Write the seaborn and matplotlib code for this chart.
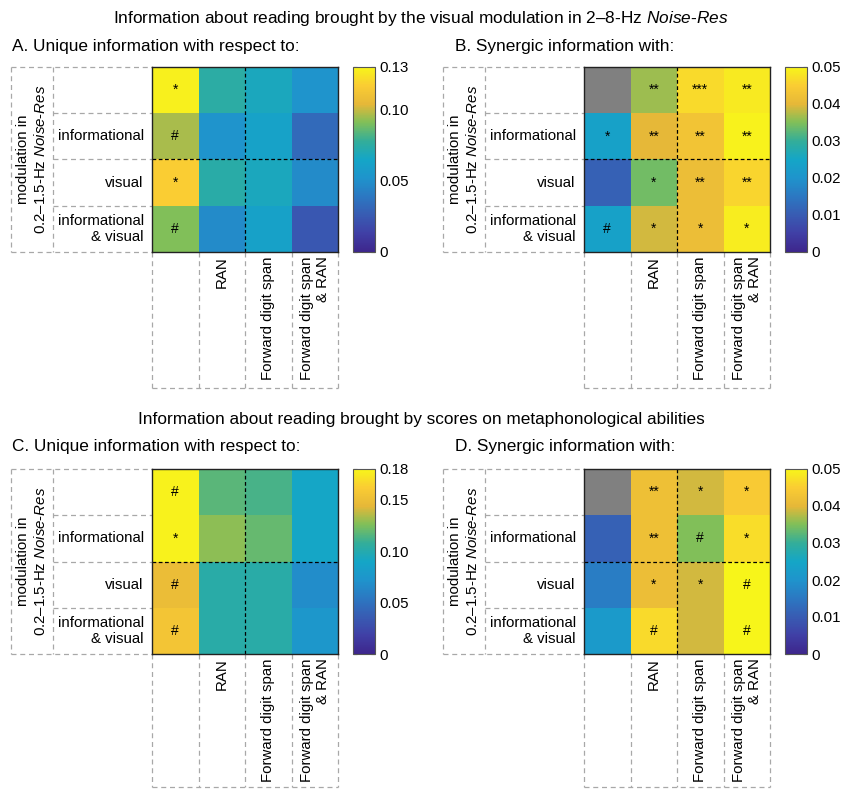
import matplotlib
matplotlib.use('Agg')
import matplotlib.pyplot as plt
from matplotlib.colors import LinearSegmentedColormap
import numpy as np
import seaborn as sns

sns.set_style('white')
plt.rcParams['font.family'] = ['Liberation Sans', 'DejaVu Sans']
plt.rcParams['mathtext.fontset'] = 'custom'
plt.rcParams['mathtext.rm'] = 'Liberation Sans'
plt.rcParams['mathtext.it'] = 'Liberation Sans:italic'
plt.rcParams['text.color'] = 'black'
plt.rcParams['xtick.color'] = 'black'
plt.rcParams['ytick.color'] = 'black'

# labels
row_labels = ['', 'informational', 'visual', 'informational\n& visual']
col_labels = ['', 'RAN', 'Forward digit span', 'Forward digit span\n& RAN']

# A. unique information (visual modulation 2-8 Hz)
uniq_a = [[0.128, 0.075, 0.068, 0.052],
          [0.096, 0.052, 0.062, 0.033],
          [0.117, 0.074, 0.068, 0.048],
          [0.091, 0.048, 0.061, 0.024]]
sig_a = [['*', '', '', ''],
         ['#', '', '', ''],
         ['*', '', '', ''],
         ['#', '', '', '']]

# B. synergic information (visual modulation 2-8 Hz), nan = not defined
syn_b = [[np.nan, 0.0365, 0.0465, 0.0485],
         [0.0235, 0.040, 0.043, 0.0495],
         [0.011, 0.034, 0.0415, 0.046],
         [0.0235, 0.039, 0.0415, 0.049]]
sig_b = [['', '**', '***', '**'],
         ['*', '**', '**', '**'],
         ['', '*', '**', '**'],
         ['#', '*', '*', '*']]

# C. unique information (metaphonological scores)
uniq_c = [[0.178, 0.117, 0.113, 0.090],
          [0.178, 0.128, 0.120, 0.090],
          [0.149, 0.102, 0.102, 0.068],
          [0.156, 0.102, 0.102, 0.075]]
sig_c = [['#', '', '', ''],
         ['*', '', '', ''],
         ['#', '', '', ''],
         ['#', '', '', '']]

# D. synergic information (metaphonological scores)
syn_d = [[np.nan, 0.042, 0.039, 0.0445],
         [0.011, 0.042, 0.035, 0.047],
         [0.016, 0.0415, 0.039, 0.050],
         [0.0215, 0.0465, 0.039, 0.050]]
sig_d = [['', '**', '*', '*'],
         ['', '**', '#', '*'],
         ['', '*', '*', '#'],
         ['', '#', '', '#']]

# parula-like colormap (as it appears in the printed figure)
parula = LinearSegmentedColormap.from_list('parula', [
    (0.24, 0.15, 0.55), (0.25, 0.25, 0.65), (0.22, 0.36, 0.70), (0.17, 0.47, 0.76),
    (0.12, 0.58, 0.80), (0.08, 0.65, 0.78), (0.20, 0.68, 0.60), (0.50, 0.75, 0.35),
    (0.90, 0.72, 0.22), (0.98, 0.80, 0.20), (0.97, 0.96, 0.10)])

W, H = 842, 790
fig = plt.figure(figsize=(W / 100, H / 100), dpi=100)


def px(x, y, w, h):
    return [x / W, 1 - (y + h) / H, w / W, h / H]


def panel(x0, y0, data, annot, vmax, ticks, ticklabels, ybot):
    ax = fig.add_axes(px(x0, y0, 186, 185))
    cax = fig.add_axes(px(x0 + 201, y0, 22, 185))
    ax.set_facecolor('#808080')
    sns.heatmap(np.array(data, dtype=float), ax=ax, cmap=parula, vmin=0, vmax=vmax,
                annot=np.array(annot), fmt='', annot_kws={'fontsize': 10, 'color': 'k'},
                cbar_ax=cax, cbar_kws={'ticks': ticks},
                xticklabels=col_labels, yticklabels=row_labels)
    for s in ax.spines.values():
        s.set_visible(True)
        s.set_color('#222222')
        s.set_linewidth(1.0)
    ax.tick_params(length=0, labelsize=10.8)
    ax.tick_params(axis='x', pad=3)
    ax.tick_params(axis='y', pad=6)
    ax.set_xticklabels(col_labels, rotation=90, va='top', ha='center', multialignment='right')
    ax.set_yticklabels(row_labels, rotation=0, ha='right', va='center', multialignment='right')

    # black dashed split lines
    ax.plot([0, 4], [2, 2], color='k', ls=(0, (3, 2)), lw=0.9)
    ax.plot([2, 2], [0, 4], color='k', ls=(0, (3, 2)), lw=0.9)

    # grey dashed label boxes
    kw = dict(color='#a8a8a8', ls=(0, (4, 3)), lw=0.9, clip_on=False)
    xo, xi = -3.03, -2.13
    ax.plot([xo, 0], [0, 0], **kw)
    ax.plot([xo, 0], [4, 4], **kw)
    ax.plot([xo, xo], [0, 4], **kw)
    ax.plot([xi, xi], [0, 4], **kw)
    for r in (1, 2, 3):
        ax.plot([xi, 0], [r, r], **kw)
    for c in range(5):
        ax.plot([c, c], [4, ybot], **kw)
    ax.plot([0, 4], [ybot, ybot], **kw)
    ax.set_xlim(0, 4)
    ax.set_ylim(4, 0)

    ax.text((xo + xi) / 2, 2, 'modulation in\n0.2–1.5-Hz $\\it{Noise}$-$\\it{Res}$',
            rotation=90, ha='center', va='center', multialignment='center', fontsize=10.8)

    cbar = ax.collections[0].colorbar
    cbar.set_ticks(ticks)
    cbar.set_ticklabels(ticklabels)
    cbar.outline.set_edgecolor('#555555')
    cbar.outline.set_linewidth(0.8)
    cax.tick_params(direction='in', length=3, left=True, right=True, labelsize=10.8, pad=3,
                    color='#333333')


panel(152, 67, uniq_a, sig_a, 0.13, [0, 0.05, 0.10, 0.13], ['0', '0.05', '0.10', '0.13'], 6.94)
panel(584, 67, syn_b, sig_b, 0.05, [0, 0.01, 0.02, 0.03, 0.04, 0.05],
      ['0', '0.01', '0.02', '0.03', '0.04', '0.05'], 6.94)
panel(152, 469, uniq_c, sig_c, 0.18, [0, 0.05, 0.10, 0.15, 0.18],
      ['0', '0.05', '0.10', '0.15', '0.18'], 6.88)
panel(584, 469, syn_d, sig_d, 0.05, [0, 0.01, 0.02, 0.03, 0.04, 0.05],
      ['0', '0.01', '0.02', '0.03', '0.04', '0.05'], 6.88)

fig.text(0.5, 1 - 18 / H,
         'Information about reading brought by the visual modulation in 2–8-Hz $\\it{Noise}$-$\\it{Res}$',
         ha='center', va='center', fontsize=12.4)
fig.text(0.5, 1 - 419 / H, 'Information about reading brought by scores on metaphonological abilities',
         ha='center', va='center', fontsize=12.4)
fig.text(12 / W, 1 - 46 / H, 'A. Unique information with respect to:', ha='left', va='center', fontsize=12.4)
fig.text(455 / W, 1 - 46 / H, 'B. Synergic information with:', ha='left', va='center', fontsize=12.4)
fig.text(12 / W, 1 - 447 / H, 'C. Unique information with respect to:', ha='left', va='center', fontsize=12.4)
fig.text(455 / W, 1 - 447 / H, 'D. Synergic information with:', ha='left', va='center', fontsize=12.4)

fig.savefig('out.png', dpi=100)
